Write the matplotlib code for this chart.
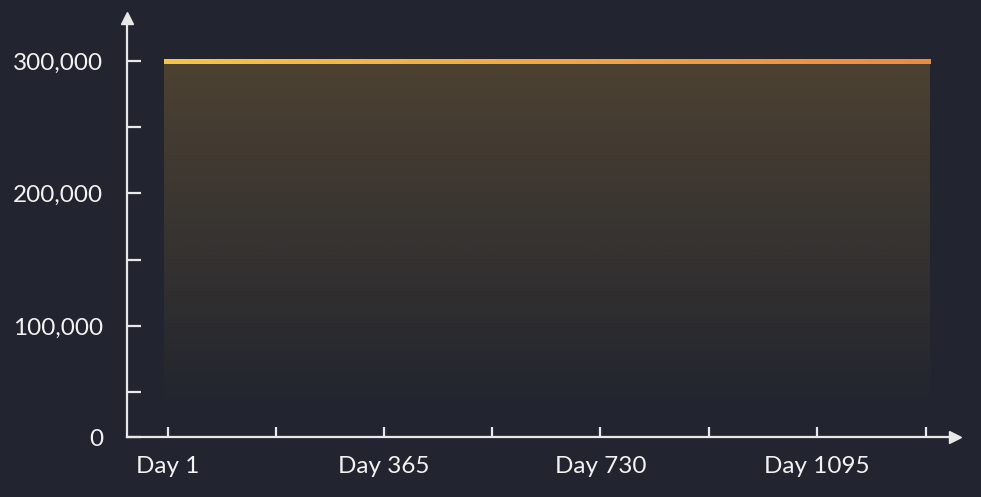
import numpy as np
import matplotlib
matplotlib.use('Agg')
import matplotlib.pyplot as plt
from matplotlib.collections import LineCollection
from matplotlib.colors import LinearSegmentedColormap, to_rgb

plt.rcParams['font.family'] = ['Lato', 'DejaVu Sans']

BG = '#22252f'
AXIS = '#e8e8e8'
TEXT = '#f2f2f2'
LINE_START = '#f5c542'
LINE_END = '#f08a3c'
FILL = '#e6aa3c'

# data
DAYS = [-6, 1285]
VALUES = [300000, 300000]
FILL_BASE = 36000

X_MAJOR = [1, 365, 730, 1095]
X_LABELS = ['Day 1', 'Day 365', 'Day 730', 'Day 1095']
X_MINOR = [183, 548, 913, 1278]
Y_MAJOR = [16226, 100000, 200000, 300000]
Y_LABELS = ['0', '100,000', '200,000', '300,000']
Y_MINOR = [50000, 150000, 250000]

fig = plt.figure(figsize=(9.81, 4.97), dpi=100)
fig.patch.set_facecolor(BG)
ax = fig.add_axes([127 / 981, 60 / 497, 828 / 981, 419 / 497])
ax.set_facecolor(BG)
ax.set_xlim(-68.1, 1327.7)
ax.set_ylim(16226, 332453)

# gradient fill under the line
poly = ax.fill_between(DAYS, VALUES, FILL_BASE, color='none', lw=0)
r, g, b = to_rgb(FILL)
grad = np.zeros((256, 1, 4))
grad[:, 0, 0] = r
grad[:, 0, 1] = g
grad[:, 0, 2] = b
grad[:, 0, 3] = np.linspace(0.22, 0.0, 256)
img = ax.imshow(grad, aspect='auto', extent=[DAYS[0], DAYS[-1], FILL_BASE, max(VALUES)],
                origin='upper', zorder=1)
img.set_clip_path(poly.get_paths()[0], transform=ax.transData)

# line with horizontal colour gradient (split only for colouring)
xs = np.linspace(DAYS[0], DAYS[-1], 300)
ys = np.interp(xs, DAYS, VALUES)
pts = np.column_stack([xs, ys]).reshape(-1, 1, 2)
segs = np.concatenate([pts[:-1], pts[1:]], axis=1)
cmap = LinearSegmentedColormap.from_list('lg', [LINE_START, LINE_END])
lc = LineCollection(segs, cmap=cmap, linewidth=3.6, capstyle='butt',
                    antialiaseds=False, zorder=3)
lc.set_array(np.linspace(0, 1, len(segs)))
ax.add_collection(lc)

# axes
for s in ['top', 'right']:
    ax.spines[s].set_visible(False)
for s in ['left', 'bottom']:
    ax.spines[s].set_color(AXIS)
    ax.spines[s].set_linewidth(1.6)
ax.plot(1, 0, marker='>', color=AXIS, markersize=8, transform=ax.transAxes, clip_on=False)
ax.plot(0, 1, marker='^', color=AXIS, markersize=8, transform=ax.transAxes, clip_on=False)

ax.set_xticks(X_MAJOR)
ax.set_xticklabels(X_LABELS)
ax.set_xticks(X_MINOR, minor=True)
ax.set_yticks(Y_MAJOR)
ax.set_yticklabels(Y_LABELS)
ax.set_yticks(Y_MINOR, minor=True)

ax.tick_params(axis='x', which='both', direction='in', length=7.2, width=1.6,
               color=AXIS, labelcolor=TEXT, labelsize=17.5, pad=14)
ax.tick_params(axis='y', which='both', direction='in', length=10, width=1.6,
               color=AXIS, labelcolor=TEXT, labelsize=17.5, pad=17)

fig.savefig('out.png', dpi=100, facecolor=BG)
